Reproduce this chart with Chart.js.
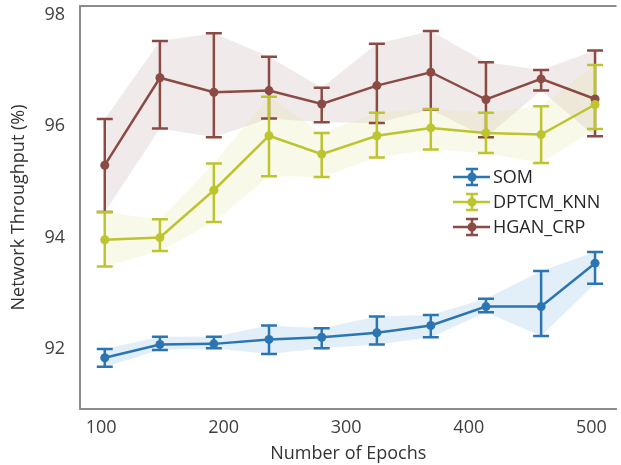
<!DOCTYPE html>
<html>
<head>
<meta charset="utf-8">
<script src="https://cdn.jsdelivr.net/npm/chart.js@4.4.0/dist/chart.umd.min.js"></script>
<style>
  html, body { margin: 0; padding: 0; background: #fff; }
  #wrap { width: 621px; height: 465px; }
</style>
</head>
<body>
<div id="wrap"><canvas id="throughputChart"></canvas></div>
<script>
// epochs where each run was measured
const epochs = [103, 148, 192, 237, 280, 325, 369, 414, 459, 503];
const xTicks = [100, 200, 300, 400, 500];
const yTicks = [92, 94, 96, 98];

// mean throughput (%) with lower / upper error limits
const somMean  = [91.84, 92.08, 92.09, 92.17, 92.21, 92.29, 92.42, 92.76, 92.76, 93.54];
const somLow   = [91.68, 91.98, 92.01, 91.91, 92.01, 92.08, 92.21, 92.66, 92.23, 93.17];
const somHigh  = [92.00, 92.22, 92.22, 92.42, 92.37, 92.58, 92.61, 92.90, 93.40, 93.74];

const knnMean  = [93.96, 94.00, 94.85, 95.83, 95.50, 95.83, 95.97, 95.88, 95.85, 96.39];
const knnLow   = [93.48, 93.76, 94.28, 95.10, 95.09, 95.44, 95.58, 95.52, 95.34, 95.95];
const knnHigh  = [94.46, 94.33, 95.33, 96.53, 95.88, 96.24, 96.31, 96.24, 96.36, 97.10];

const crpMean  = [95.30, 96.87, 96.61, 96.64, 96.40, 96.73, 96.97, 96.48, 96.85, 96.49];
const crpLow   = [94.46, 95.96, 95.80, 96.14, 96.07, 96.06, 96.30, 95.80, 96.64, 95.82];
const crpHigh  = [96.13, 97.53, 97.67, 97.25, 96.69, 97.48, 97.71, 97.15, 97.01, 97.36];

const FONT = "'Open Sans', 'DejaVu Sans', sans-serif";
const frameColor = '#8c8c8c';

function toPoints(values) {
    return values.map((v, i) => ({ x: epochs[i], y: v }));
}

function makeSeries(label, mean, low, high, color, band) {
    return {
        label: label,
        data: toPoints(mean),
        low: low,
        high: high,
        band: band,
        borderColor: color,
        backgroundColor: color,
        borderWidth: 2.5,
        pointRadius: 4.5,
        pointHoverRadius: 4.5,
        pointBorderWidth: 0,
        tension: 0,
        fill: false
    };
}

// shaded range + error bars, drawn under the lines
const errorBars = {
    id: 'errorBars',
    beforeDatasetsDraw(chart) {
        const { ctx, chartArea, scales: { x, y } } = chart;
        const sets = chart.data.datasets;
        ctx.save();
        ctx.beginPath();
        ctx.rect(chartArea.left, chartArea.top, chartArea.width, chartArea.height);
        ctx.clip();

        // bands, back to front
        for (let k = sets.length - 1; k >= 0; k--) {
            const ds = sets[k];
            ctx.beginPath();
            ds.high.forEach((v, i) => {
                const px = x.getPixelForValue(epochs[i]);
                const py = y.getPixelForValue(v);
                if (i === 0) ctx.moveTo(px, py); else ctx.lineTo(px, py);
            });
            for (let i = ds.low.length - 1; i >= 0; i--) {
                ctx.lineTo(x.getPixelForValue(epochs[i]), y.getPixelForValue(ds.low[i]));
            }
            ctx.closePath();
            ctx.fillStyle = ds.band;
            ctx.fill();
        }

        // whiskers
        for (let k = sets.length - 1; k >= 0; k--) {
            const ds = sets[k];
            ctx.strokeStyle = ds.borderColor;
            ctx.lineWidth = 2.5;
            ds.low.forEach((lo, i) => {
                const px = x.getPixelForValue(epochs[i]);
                const top = y.getPixelForValue(ds.high[i]);
                const bot = y.getPixelForValue(lo);
                ctx.beginPath();
                ctx.moveTo(px, top); ctx.lineTo(px, bot);
                ctx.moveTo(px - 8, top); ctx.lineTo(px + 8, top);
                ctx.moveTo(px - 8, bot); ctx.lineTo(px + 8, bot);
                ctx.stroke();
            });
        }
        ctx.restore();
    }
};

// top frame line and the legend box inside the plot
const frameAndLegend = {
    id: 'frameAndLegend',
    afterDraw(chart) {
        const { ctx, chartArea } = chart;
        ctx.save();
        ctx.strokeStyle = frameColor;
        ctx.lineWidth = 2;
        ctx.beginPath();
        ctx.moveTo(chartArea.left, chartArea.top);
        ctx.lineTo(chartArea.right, chartArea.top);
        ctx.stroke();

        const lx = 472, ly = 177, step = 25;
        ctx.font = '18px ' + FONT;
        ctx.textBaseline = 'middle';
        ctx.textAlign = 'left';
        chart.data.datasets.forEach((ds, i) => {
            const cy = ly + i * step;
            ctx.strokeStyle = ds.borderColor;
            ctx.lineWidth = 2.5;
            ctx.beginPath();
            ctx.moveTo(lx - 19, cy); ctx.lineTo(lx + 18, cy);
            ctx.moveTo(lx, cy - 8); ctx.lineTo(lx, cy + 8);
            ctx.moveTo(lx - 6, cy - 8); ctx.lineTo(lx + 6, cy - 8);
            ctx.moveTo(lx - 6, cy + 8); ctx.lineTo(lx + 6, cy + 8);
            ctx.stroke();
            ctx.fillStyle = ds.borderColor;
            ctx.beginPath();
            ctx.arc(lx, cy, 4.5, 0, Math.PI * 2);
            ctx.fill();
            ctx.fillStyle = '#262626';
            ctx.fillText(ds.label, lx + 21, cy + 1);
        });
        ctx.restore();
    }
};

document.addEventListener('DOMContentLoaded', function() {
    const ctx = document.getElementById('throughputChart').getContext('2d');
    new Chart(ctx, {
        type: 'line',
        data: {
            datasets: [
                makeSeries('SOM', somMean, somLow, somHigh, '#2b76b2', 'rgba(110,170,220,0.2)'),
                makeSeries('DPTCM_KNN', knnMean, knnLow, knnHigh, '#bcc42e', 'rgba(215,215,120,0.16)'),
                makeSeries('HGAN_CRP', crpMean, crpLow, crpHigh, '#8b4a43', 'rgba(180,150,148,0.2)')
            ]
        },
        options: {
            responsive: true,
            maintainAspectRatio: false,
            animation: false,
            layout: { padding: { top: 6, left: 0, right: 0, bottom: 0 } },
            plugins: {
                legend: { display: false },
                tooltip: { enabled: false }
            },
            scales: {
                x: {
                    type: 'linear',
                    min: 82.8,
                    max: 520.5,
                    afterBuildTicks: s => { s.ticks = xTicks.map(v => ({ value: v })); },
                    afterFit: s => { s.height = 56; s.paddingLeft = 0; s.paddingRight = 0; },
                    grid: { display: false, drawTicks: false },
                    border: { display: true, color: frameColor, width: 2 },
                    ticks: {
                        padding: 8,
                        color: '#404040',
                        font: { family: FONT, size: 18 }
                    },
                    title: {
                        display: true,
                        text: 'Number of Epochs',
                        color: '#333333',
                        font: { family: FONT, size: 18 },
                        padding: { top: 0, bottom: 0 }
                    }
                },
                y: {
                    min: 90.92,
                    max: 98.16,
                    afterBuildTicks: s => { s.ticks = yTicks.map(v => ({ value: v })); },
                    afterFit: s => { s.width = 80; s.paddingTop = 0; s.paddingBottom = 0; },
                    grid: { display: false, drawTicks: false },
                    border: { display: true, color: frameColor, width: 2 },
                    ticks: {
                        padding: 15,
                        color: '#404040',
                        font: { family: FONT, size: 18 }
                    },
                    title: {
                        display: true,
                        text: 'Network Throughput (%)',
                        color: '#333333',
                        font: { family: FONT, size: 18 },
                        padding: { top: 8, bottom: 0 }
                    }
                }
            }
        },
        plugins: [errorBars, frameAndLegend]
    });
});
</script>
</body>
</html>
